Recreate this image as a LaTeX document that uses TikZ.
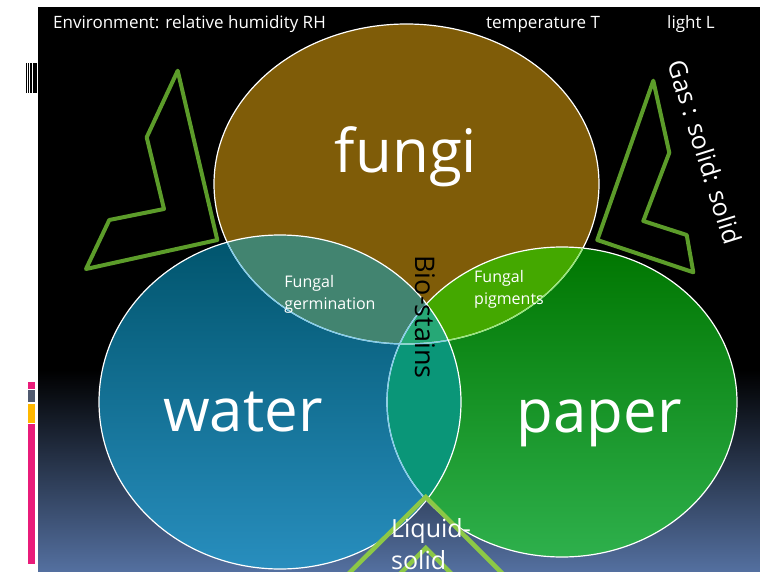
\documentclass[tikz,border=0pt]{standalone}
\usepackage{fontspec}
\setmainfont{Open Sans}
\usetikzlibrary{positioning}

\definecolor{fungibrown}{RGB}{127,92,8}
\definecolor{watertop}{RGB}{0,84,108}
\definecolor{watermid}{RGB}{4,92,122}
\definecolor{waterbot}{RGB}{40,142,190}
\definecolor{papertop}{RGB}{0,118,0}
\definecolor{papermid}{RGB}{8,128,10}
\definecolor{paperbot}{RGB}{46,176,76}
\definecolor{fwcol}{RGB}{66,132,112}
\definecolor{fpcol}{RGB}{68,168,0}
\definecolor{wpcol}{RGB}{10,150,120}
\definecolor{allcol}{RGB}{38,168,118}
\definecolor{slidebot}{RGB}{84,112,160}
\definecolor{zigzag}{RGB}{92,156,42}
\definecolor{chevron}{RGB}{140,200,70}
\definecolor{edgeblue}{RGB}{130,205,235}
\definecolor{edgegreen}{RGB}{150,230,120}
\definecolor{barpink}{RGB}{233,28,122}
\definecolor{bargray}{RGB}{80,90,112}
\definecolor{baryellow}{RGB}{255,184,0}

\tikzset{
  envtext/.style={font=\fontsize{17}{20}\selectfont, text=white, inner sep=0pt},
  settext/.style={font=\fontsize{60}{62}\selectfont, text=white, inner sep=0pt},
  lenstext/.style={font=\fontsize{16}{22}\selectfont, text=white, align=left, inner sep=0pt},
  phasetext/.style={font=\fontsize{25}{32}\selectfont, inner sep=0pt},
  zigzagline/.style={draw=zigzag, line width=4pt, line join=round},
}

\def\fungishape{(406.5,184) ellipse [x radius=192.5pt, y radius=160pt]}
\def\watershape{(280,402) ellipse [x radius=181pt, y radius=167pt]}
\def\papershape{(562,402) ellipse [x radius=175pt, y radius=155pt]}

\begin{document}
\begin{tikzpicture}[x=1pt, y=-1pt]

\useasboundingbox (0,0) rectangle (760,572);
\fill[white] (0,0) rectangle (760,572);

% Slide background
\fill[black] (38,7) rectangle (760,572);
\shade[top color=black, bottom color=slidebot] (38,370) rectangle (760,572);

% Marks on the left
\fill[black] (26,63) rectangle (37,93);
\fill[white] (27.4,63) rectangle (28.1,93);
\fill[white] (29.3,63) rectangle (30,93);
\fill[white] (31.6,63) rectangle (32.5,93);
\fill[barpink] (28,382) rectangle (35,389);
\fill[bargray] (28,390) rectangle (35,402);
\fill[baryellow] (28,404) rectangle (35,423);
\fill[barpink] (28,424) rectangle (35,564);

% Three sets
\fill[fungibrown] \fungishape;
\shade[top color=papertop, middle color=papermid, bottom color=paperbot] \papershape;
\shade[top color=watertop, middle color=watermid, bottom color=waterbot] \watershape;

% Overlaps
\begin{scope}
  \clip \fungishape;
  \fill[fwcol] \watershape;
  \fill[fpcol] \papershape;
\end{scope}
\begin{scope}
  \clip \watershape;
  \fill[wpcol] \papershape;
  \clip \fungishape;
  \fill[allcol] \papershape;
\end{scope}

% Outlines
\draw[white, line width=1.2pt] \fungishape;
\draw[white, line width=1.2pt] \papershape;
\begin{scope}
  \clip \papershape;
  \draw[edgegreen, line width=1.2pt] \fungishape;
\end{scope}
\begin{scope}
  \clip \watershape;
  \draw[edgeblue, line width=1.2pt] \fungishape;
  \draw[edgeblue, line width=1.2pt] \papershape;
\end{scope}
\draw[white, line width=1.2pt] \watershape;

% Green outlines
\draw[zigzagline] (177.7,70.7) -- (146.7,137.3) -- (164,209) -- (109.3,220)
  -- (86,269) -- (217.3,240) -- cycle;
\draw[zigzagline] (653.3,80.7) -- (669.3,152.7) -- (643.3,221) -- (686.7,235)
  -- (693.3,272.3) -- (597.3,240) -- cycle;
\draw[draw=chevron, line width=4.5pt, line join=miter]
  (322,600) -- (425.7,497) -- (529,600);
\draw[draw=chevron, line width=4.5pt, line join=miter]
  (373.7,600) -- (425.7,548) -- (477.7,600);

% Environment
\node[envtext, anchor=base west] (envlabel) at (53,29) {Environment: relative humidity RH};
\node[envtext, anchor=base west] (templabel) at (486,29) {temperature T};
\node[envtext, anchor=base west] (lightlabel) at (667,29) {light L};

% Set names
\node[settext, anchor=base] (fungilabel) at (406,173) {fungi};
\node[settext, anchor=base] (waterlabel) at (243,431) {water};
\node[settext, anchor=base] (paperlabel) at (599,432) {paper};

% Overlap names
\node[lenstext] (germlabel) at (330,294) {Fungal\\germination};
\node[lenstext] (pigmentlabel) at (509,289) {Fungal\\pigments};
\node[phasetext, font=\fontsize{27}{32}\selectfont, text=black, rotate=-90] (biostain) at (425,317) {Bio-stains};
\node[phasetext, text=white, rotate=-72.5] (gaslabel) at (705,152) {Gas : solid: solid};
\node[phasetext, text=white, align=left] (liquidlabel) at (431,544) {Liquid-\\solid};

\end{tikzpicture}
\end{document}
